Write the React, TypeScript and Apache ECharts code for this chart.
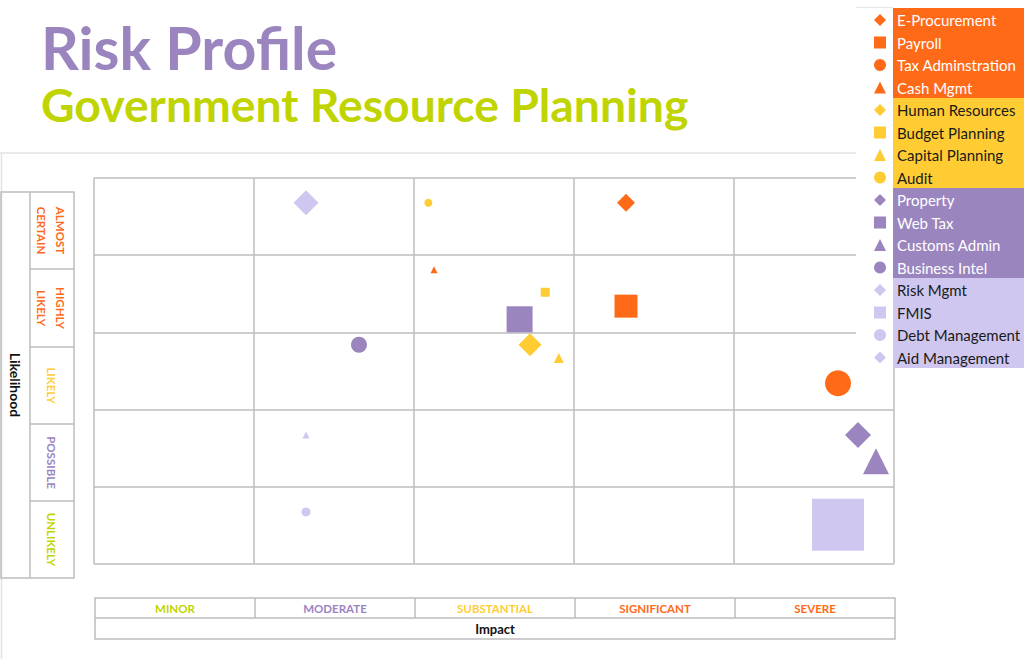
import React, { useEffect, useRef } from 'react';
import * as echarts from 'echarts';

const ORANGE = '#FF6A19';
const YELLOW = '#FFCD33';
const PURPLE = '#9B85BF';
const LILAC = '#CFC7EF';
const GREEN = '#BFD400';

const titleText = 'Risk Profile';
const subtitleText = 'Government Resource Planning';

const impactLabels = ['MINOR', 'MODERATE', 'SUBSTANTIAL', 'SIGNIFICANT', 'SEVERE'];
const impactColors = [GREEN, PURPLE, YELLOW, ORANGE, ORANGE];
const likelihoodLabels = ['ALMOST\nCERTAIN', 'HIGHLY\nLIKELY', 'LIKELY', 'POSSIBLE', 'UNLIKELY'];
const likelihoodColors = [ORANGE, ORANGE, YELLOW, PURPLE, GREEN];

const seriesNames = [
  'E-Procurement', 'Payroll', 'Tax Adminstration', 'Cash Mgmt',
  'Human Resources', 'Budget Planning', 'Capital Planning', 'Audit',
  'Property', 'Web Tax', 'Customs Admin', 'Business Intel',
  'Risk Mgmt', 'FMIS', 'Debt Management', 'Aid Management',
];
const seriesColors = [
  ORANGE, ORANGE, ORANGE, ORANGE,
  YELLOW, YELLOW, YELLOW, YELLOW,
  PURPLE, PURPLE, PURPLE, PURPLE,
  LILAC, LILAC, LILAC, LILAC,
];
const seriesSymbols = [
  'diamond', 'rect', 'circle', 'triangle',
  'diamond', 'rect', 'triangle', 'circle',
  'diamond', 'rect', 'triangle', 'circle',
  'diamond', 'rect', 'circle', 'triangle',
];
const legendIcons = [
  'diamond', 'rect', 'circle', 'triangle',
  'diamond', 'rect', 'triangle', 'circle',
  'diamond', 'rect', 'triangle', 'circle',
  'diamond', 'rect', 'circle', 'diamond',
];
const legendTextColors = [
  '#ffffff', '#ffffff', '#ffffff', '#ffffff',
  '#1a1a1a', '#1a1a1a', '#1a1a1a', '#1a1a1a',
  '#ffffff', '#ffffff', '#ffffff', '#ffffff',
  '#1a1a1a', '#1a1a1a', '#1a1a1a', '#1a1a1a',
];
// impact (0..5, one unit per column) and likelihood (0..5, one unit per row)
const impactValues = [
  3.325, 3.325, 4.65, 2.125,
  2.725, 2.82, 2.905, 2.09,
  4.775, 2.66, 4.8875, 1.656,
  1.325, 4.65, 1.325, 1.325,
];
const likelihoodValues = [
  4.68, 3.34, 2.34, 3.81,
  2.84, 3.52, 2.67, 4.68,
  1.67, 3.17, 1.33, 2.84,
  4.68, 0.51, 0.675, 1.67,
];
const markerSizes = [
  18, 23, 26, 7,
  23, 9, 10, 8,
  26, 26, 26, 16,
  25, 52, 9, 7,
];

const GRID_LEFT = 94;
const GRID_TOP = 178;
const GRID_W = 800;
const GRID_H = 386;
const LINE = '#bdbdbd';

export default function App() {
  const ref = useRef<HTMLDivElement>(null);
  useEffect(() => {
    if (!ref.current) return;
    const chart = echarts.init(ref.current, undefined, { renderer: 'svg' });

    const series = seriesNames.map((name, i) => ({
      type: 'scatter',
      name,
      symbol: seriesSymbols[i],
      symbolSize: markerSizes[i],
      itemStyle: { color: seriesColors[i], opacity: 1 },
      emphasis: { disabled: true },
      data: [[impactValues[i], likelihoodValues[i]]],
      z: 3,
    }));

    const graphics: any[] = [];
    // page frame
    graphics.push({ type: 'line', z: 1, shape: { x1: 0, y1: 153, x2: 856, y2: 153 }, style: { stroke: '#e3e3e3', lineWidth: 1.5 } });
    graphics.push({ type: 'line', z: 1, shape: { x1: 1.5, y1: 153, x2: 1.5, y2: 659 }, style: { stroke: '#e3e3e3', lineWidth: 1.5 } });
    // titles
    graphics.push({ type: 'text', z: 5, x: 41, y: 47, style: { text: titleText, fill: PURPLE, font: 'bold 59px Lato', textAlign: 'left', textVerticalAlign: 'middle' } });
    graphics.push({ type: 'text', z: 5, x: 41, y: 104, style: { text: subtitleText, fill: GREEN, font: 'bold 46.3px Lato', textAlign: 'left', textVerticalAlign: 'middle' } });

    // likelihood table
    const rowTops = [192, 269, 347, 424, 501, 578];
    graphics.push({ type: 'rect', z: 1, shape: { x: 1, y: 192, width: 73, height: 386 }, style: { fill: 'none', stroke: LINE, lineWidth: 1.5 } });
    graphics.push({ type: 'line', z: 1, shape: { x1: 30, y1: 192, x2: 30, y2: 578 }, style: { stroke: LINE, lineWidth: 1.5 } });
    for (let r = 1; r < 5; r++) {
      graphics.push({ type: 'line', z: 1, shape: { x1: 30, y1: rowTops[r], x2: 74, y2: rowTops[r] }, style: { stroke: LINE, lineWidth: 1.5 } });
    }
    likelihoodLabels.forEach((lab, r) => {
      graphics.push({
        type: 'text', z: 5, x: 51, y: (rowTops[r] + rowTops[r + 1]) / 2, rotation: -Math.PI / 2,
        style: { text: lab, fill: likelihoodColors[r], font: 'bold 11.5px Lato', lineHeight: 19, textAlign: 'center', textVerticalAlign: 'middle' },
      });
    });
    graphics.push({ type: 'text', z: 5, x: 15, y: 385, rotation: -Math.PI / 2, style: { text: 'Likelihood', fill: '#111', font: 'bold 14px Lato', textAlign: 'center', textVerticalAlign: 'middle' } });

    // impact table
    graphics.push({ type: 'rect', z: 1, shape: { x: 95, y: 598, width: 800, height: 41 }, style: { fill: 'none', stroke: LINE, lineWidth: 1.5 } });
    graphics.push({ type: 'line', z: 1, shape: { x1: 95, y1: 618, x2: 895, y2: 618 }, style: { stroke: LINE, lineWidth: 1.5 } });
    for (let c = 1; c < 5; c++) {
      const x = 95 + c * 160;
      graphics.push({ type: 'line', z: 1, shape: { x1: x, y1: 598, x2: x, y2: 618 }, style: { stroke: LINE, lineWidth: 1.5 } });
    }
    impactLabels.forEach((lab, c) => {
      graphics.push({ type: 'text', z: 5, x: 175 + c * 160, y: 608.5, style: { text: lab, fill: impactColors[c], font: 'bold 11.5px Lato', textAlign: 'center', textVerticalAlign: 'middle' } });
    });
    graphics.push({ type: 'text', z: 5, x: 495, y: 629, style: { text: 'Impact', fill: '#111', font: 'bold 13px Lato', textAlign: 'center', textVerticalAlign: 'middle' } });

    // legend backdrop
    graphics.push({ type: 'rect', z: 6, shape: { x: 856, y: 7, width: 168, height: 361 }, style: { fill: '#ffffff' } });
    graphics.push({ type: 'line', z: 6, shape: { x1: 856, y1: 7.5, x2: 893, y2: 7.5 }, style: { stroke: '#e6e6e6', lineWidth: 1 } });
    const bandColors = [ORANGE, YELLOW, PURPLE, LILAC];
    bandColors.forEach((col, b) => {
      graphics.push({ type: 'rect', z: 7, shape: { x: 893, y: 8 + b * 90, width: 131, height: 90 }, style: { fill: col } });
    });

    const option: any = {
      animation: false,
      grid: { left: GRID_LEFT, top: GRID_TOP, width: GRID_W, height: GRID_H, containLabel: false },
      xAxis: {
        type: 'value', min: 0, max: 5, interval: 1,
        axisLabel: { show: false }, axisTick: { show: false }, axisLine: { show: false },
        splitLine: { show: true, lineStyle: { color: LINE, width: 1.5 } },
      },
      yAxis: {
        type: 'value', min: 0, max: 5, interval: 1,
        axisLabel: { show: false }, axisTick: { show: false }, axisLine: { show: false },
        splitLine: { show: true, lineStyle: { color: LINE, width: 1.5 } },
      },
      legend: {
        orient: 'vertical',
        left: 874,
        top: 12,
        padding: 0,
        itemWidth: 12,
        itemHeight: 12,
        itemGap: 6.5,
        selectedMode: false,
        z: 10,
        textStyle: { fontFamily: 'Lato', fontSize: 15, lineHeight: 16, padding: [0, 0, 0, 6] },
        data: seriesNames.map((name, i) => ({
          name,
          icon: legendIcons[i],
          textStyle: { color: legendTextColors[i] },
        })),
      },
      graphic: { elements: graphics },
      series,
    };
    chart.setOption(option);
    return () => chart.dispose();
  }, []);
  return <div ref={ref} style={{ position: 'absolute', left: 0, top: 0, width: 1024, height: 659, background: '#fff' }} />;
}
